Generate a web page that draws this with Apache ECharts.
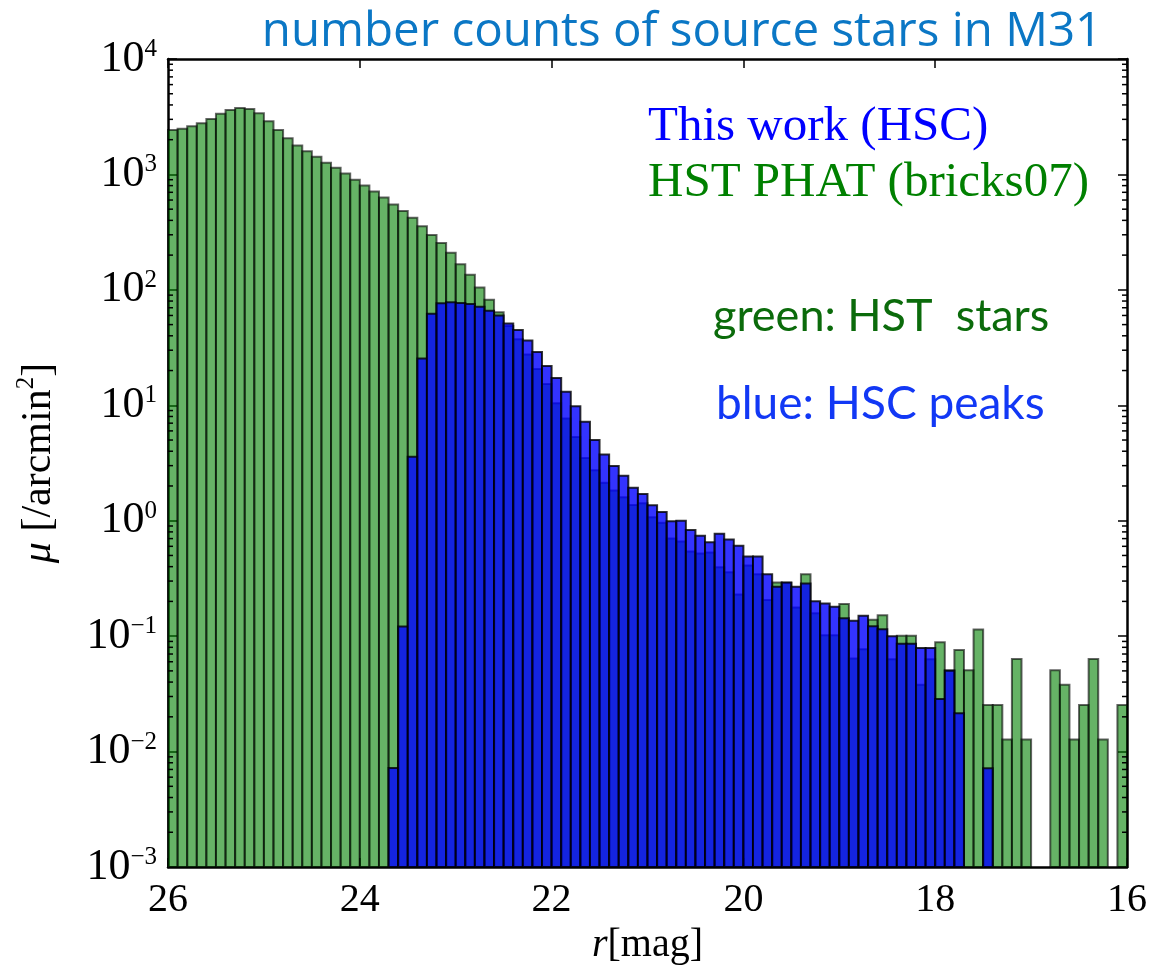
<!DOCTYPE html>
<html><head><meta charset="utf-8">
<script src="https://cdn.jsdelivr.net/npm/echarts@6/dist/echarts.min.js"></script>
<style>html,body{margin:0;padding:0;background:#fff}#c{width:1149px;height:969px}</style>
</head><body><div id="c"></div>
<script>
// r-band magnitude bin centres (bin width 0.1 mag), from faint (26) to bright (16)
const binCenters = [
  25.95,25.85,25.75,25.65,25.55,25.45,25.35,25.25,25.15,25.05,
  24.95,24.85,24.75,24.65,24.55,24.45,24.35,24.25,24.15,24.05,
  23.95,23.85,23.75,23.65,23.55,23.45,23.35,23.25,23.15,23.05,
  22.95,22.85,22.75,22.65,22.55,22.45,22.35,22.25,22.15,22.05,
  21.95,21.85,21.75,21.65,21.55,21.45,21.35,21.25,21.15,21.05,
  20.95,20.85,20.75,20.65,20.55,20.45,20.35,20.25,20.15,20.05,
  19.95,19.85,19.75,19.65,19.55,19.45,19.35,19.25,19.15,19.05,
  18.95,18.85,18.75,18.65,18.55,18.45,18.35,18.25,18.15,18.05,
  17.95,17.85,17.75,17.65,17.55,17.45,17.35,17.25,17.15,17.05,
  16.95,16.85,16.75,16.65,16.55,16.45,16.35,16.25,16.15,16.05
];
const binWidth = 0.1;

// HST PHAT (bricks07) star counts, /arcmin^2 (null = empty bin)
const hstCounts = [
  2430,2490,2610,2780,3020,3360,3610,3760,3690,3390,
  2890,2430,2060,1780,1590,1425,1265,1140,1020,900,
  800,710,630,550,482,422,355,299,255,210,
  167,135,105,82,64,48.7,37.3,27.5,20.6,15.3,
  10.4,7.7,5.3,3.5,2.74,2.13,1.83,1.6,1.37,1.42,
  1.07,0.96,0.70,0.66,0.54,0.52,0.53,0.395,0.357,0.23,
  0.41,0.343,0.206,0.292,0.29,0.177,0.343,0.158,0.102,0.102,
  0.190,0.064,0.077,0.139,0.152,0.063,0.101,0.101,0.038,0.063,
  0.0887,0.0506,0.076,0.0506,0.114,0.0253,0.0253,0.0127,0.0633,0.0127,
  null,null,0.0506,0.038,0.0127,0.0253,0.0633,0.0127,null,0.0253
];

// This work (HSC) peak counts, /arcmin^2
const hscCounts = [
  null,null,null,null,null,null,null,null,null,null,
  null,null,null,null,null,null,null,null,null,null,
  null,null,null,0.0072,0.121,3.58,25.4,62,76.5,78,
  77,75.5,71.5,66,60,51,45,36.4,29,21.9,
  17.2,13.1,9.8,7.2,5.0,3.75,2.98,2.45,1.93,1.70,
  1.36,1.19,0.99,1.0,0.83,0.74,0.65,0.77,0.686,0.608,
  0.49,0.49,0.343,0.268,0.292,0.268,0.286,0.201,0.192,0.180,
  0.143,0.136,0.150,0.122,0.115,0.100,0.0859,0.0859,0.0788,0.0788,
  0.0286,0.0501,0.0215,null,null,0.00716,null,null,null,null,
  null,null,null,null,null,null,null,null,null,null
];

const xTickLabels = [26,24,22,20,18,16];
const yMin = 1e-3, yMax = 1e4;

const SERIF = 'Liberation Serif';

// minor tick values for log axis (2..9 x each decade)
const minorTickValues = [];
for (let e = -3; e < 4; e++) for (let m = 2; m <= 9; m++) minorTickValues.push(m * Math.pow(10, e));

function supExp(v) {
  const e = Math.round(Math.log10(v));
  return '{b|10}{s|' + (e < 0 ? '\u2212' + (-e) : e) + '}';
}

function barRenderer(fill, stroke) {
  return function (params, api) {
    const v = api.value(1);
    if (v == null || isNaN(v) || v <= 0) return null;
    const c = api.value(0);
    const p1 = api.coord([c + binWidth / 2, v]);
    const p2 = api.coord([c - binWidth / 2, yMin]);
    return {
      type: 'rect',
      shape: { x: Math.min(p1[0], p2[0]), y: Math.min(p1[1], p2[1]),
               width: Math.abs(p2[0] - p1[0]), height: Math.abs(p2[1] - p1[1]) },
      style: { fill: fill, stroke: stroke, lineWidth: 2 }
    };
  };
}

const tickStyle = { color: '#000', width: 1.5 };
const lineStyle = { color: '#000', width: 2.5 };

const chart = echarts.init(document.getElementById('c'), null, { renderer: 'canvas' });
chart.setOption({
  animation: false,
  backgroundColor: '#fff',
  grid: { left: 168, right: 22, top: 59, bottom: 102, containLabel: false, outerBoundsMode: 'none' },
  xAxis: [
    {
      type: 'value', min: 16, max: 26, interval: 2, inverse: true, position: 'bottom',
      axisLine: { onZero: false, lineStyle: lineStyle },
      axisTick: { inside: true, length: 9, lineStyle: tickStyle },
      axisLabel: { fontFamily: SERIF, fontSize: 40, color: '#000', margin: 13,
                   showMinLabel: true, showMaxLabel: true,
                   formatter: v => String(Math.round(v)) },
      splitLine: { show: false },
      name: '{i|r}{t|[mag]}', nameLocation: 'middle', nameGap: 58,
      nameTextStyle: { fontFamily: SERIF, fontSize: 40, color: '#000',
        rich: { i: { fontFamily: SERIF, fontStyle: 'italic', fontSize: 40 },
                t: { fontFamily: SERIF, fontSize: 40 } } }
    },
    {
      type: 'value', min: 16, max: 26, interval: 2, inverse: true, position: 'top',
      axisLine: { onZero: false, lineStyle: lineStyle },
      axisTick: { inside: true, length: 9, lineStyle: tickStyle },
      axisLabel: { show: false }, splitLine: { show: false }
    }
  ],
  yAxis: [
    {
      type: 'log', logBase: 10, min: yMin, max: yMax, splitNumber: 7, position: 'left',
      axisLine: { lineStyle: lineStyle },
      axisTick: { inside: true, length: 9, lineStyle: tickStyle },
      axisLabel: { margin: 11, formatter: supExp,
        rich: { b: { fontFamily: SERIF, fontSize: 44, color: '#000', lineHeight: 44, verticalAlign: 'bottom' },
                s: { fontFamily: SERIF, fontSize: 25, color: '#000', lineHeight: 21, verticalAlign: 'top' } } },
      splitLine: { show: false },
      name: '{i|\u03bc}{t| [/arcmin}{s|2}{t|]}', nameLocation: 'middle', nameGap: 108,
      nameTextStyle: { fontFamily: SERIF, fontSize: 42, color: '#000',
        rich: { i: { fontFamily: SERIF, fontStyle: 'italic', fontSize: 42, lineHeight: 46, verticalAlign: 'bottom' },
                t: { fontFamily: SERIF, fontSize: 42, lineHeight: 46, verticalAlign: 'bottom' },
                s: { fontFamily: SERIF, fontSize: 25, lineHeight: 25, verticalAlign: 'top' } } }
    },
    {
      type: 'log', logBase: 10, min: yMin, max: yMax, splitNumber: 7, position: 'right',
      axisLine: { lineStyle: lineStyle },
      axisTick: { inside: true, length: 9, lineStyle: tickStyle },
      axisLabel: { show: false }, splitLine: { show: false }
    }
  ],
  graphic: [
    { type: 'text', silent: true, style: { text: 'number counts of source stars in M31', x: 682, y: 32,
      font: '47.5px "Open Sans"', fill: '#0b77c5', align: 'center', verticalAlign: 'middle',
      textAlign: 'center', textVerticalAlign: 'middle' } },
    { type: 'text', silent: true, style: { text: 'This work (HSC)', x: 648, y: 127,
      font: '49px "Liberation Serif"', fill: '#0000ff', align: 'left', verticalAlign: 'middle',
      textAlign: 'left', textVerticalAlign: 'middle' } },
    { type: 'text', silent: true, style: { text: 'HST PHAT (bricks07)', x: 648, y: 183,
      font: '49px "Liberation Serif"', fill: '#008000', align: 'left', verticalAlign: 'middle',
      textAlign: 'left', textVerticalAlign: 'middle' } },
    { type: 'text', silent: true, style: { text: 'green: HST  stars', x: 713, y: 316,
      font: '45px Lato', fill: '#0b6b0b', align: 'left', verticalAlign: 'middle',
      textAlign: 'left', textVerticalAlign: 'middle' } },
    { type: 'text', silent: true, style: { text: 'blue: HSC peaks', x: 716, y: 404,
      font: '46px Lato', fill: '#1238f5', align: 'left', verticalAlign: 'middle',
      textAlign: 'left', textVerticalAlign: 'middle' } }
  ],
  series: [
    {
      name: 'HST PHAT (bricks07)', type: 'custom', xAxisIndex: 0, yAxisIndex: 0, silent: true,
      renderItem: barRenderer('rgba(0,128,0,0.6)', 'rgba(0,0,0,0.6)'),
      encode: { x: 0, y: 1 },
      data: binCenters.map((c, i) => [c, hstCounts[i] == null ? NaN : hstCounts[i]])
    },
    {
      name: 'This work (HSC)', type: 'custom', xAxisIndex: 0, yAxisIndex: 0, silent: true,
      renderItem: barRenderer('rgba(0,0,255,0.8)', 'rgba(0,0,0,0.8)'),
      encode: { x: 0, y: 1 },
      data: binCenters.map((c, i) => [c, hscCounts[i] == null ? NaN : hscCounts[i]])
    },
    {
      name: 'minor ticks', type: 'custom', xAxisIndex: 0, yAxisIndex: 0, silent: true, z: 10,
      renderItem: function (params, api) {
        const v = api.value(1);
        const l = api.coord([26, v]), r = api.coord([16, v]);
        return { type: 'group', children: [
          { type: 'line', shape: { x1: l[0], y1: l[1], x2: l[0] + 5, y2: l[1] }, style: { stroke: '#000', lineWidth: 1.5 } },
          { type: 'line', shape: { x1: r[0] - 5, y1: r[1], x2: r[0], y2: r[1] }, style: { stroke: '#000', lineWidth: 1.5 } }
        ] };
      },
      encode: { x: 0, y: 1 },
      data: minorTickValues.map(v => [26, v])
    }
  ]
});
</script>
</body></html>
